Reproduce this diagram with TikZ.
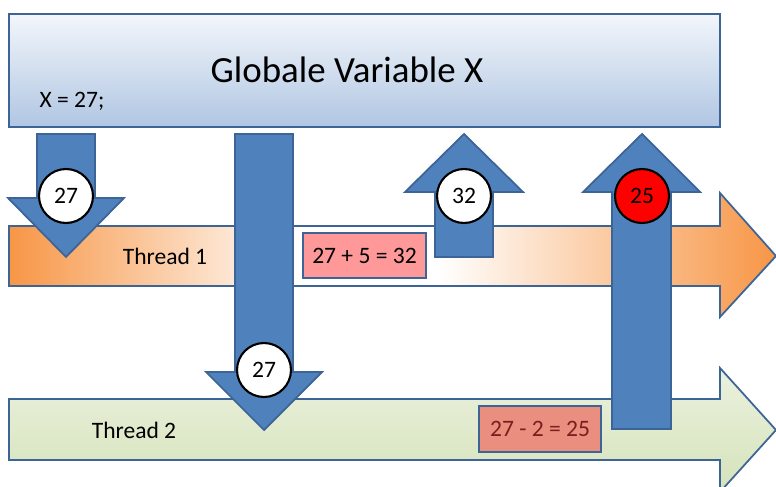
\documentclass[tikz,border=0pt]{standalone}
\usepackage{fontspec}
\setmainfont{Carlito}
\usepackage{tikz}
\usetikzlibrary{calc}

\definecolor{gvarTop}{HTML}{F3F6FB}
\definecolor{gvarBot}{HTML}{B0C6E2}
\definecolor{edgeBlue}{HTML}{3D6496}
\definecolor{flowBlue}{HTML}{4F81BD}
\definecolor{tOrange}{HTML}{F79646}
\definecolor{tGreenTop}{HTML}{EBF1DE}
\definecolor{tGreenBot}{HTML}{D5E3BA}
\definecolor{calcPink}{HTML}{FF9999}
\definecolor{calcRed}{HTML}{EA8E7F}
\definecolor{calcText}{HTML}{7A1E1E}

% orange -> white -> orange along the first thread (path box = 25bp..75bp)
\pgfdeclarehorizontalshading{threadshade}{100bp}{color(0bp)=(tOrange); color(25bp)=(tOrange); color(44bp)=(white); color(53bp)=(white); color(75bp)=(tOrange); color(100bp)=(tOrange)}

\begin{document}
\begin{tikzpicture}
[x=0.02cm, y=-0.02cm,
 every node/.style={font=\fontsize{13.4}{16}\selectfont, inner sep=0pt},
 gvar/.style={draw=edgeBlue, line width=1pt, top color=gvarTop, bottom color=gvarBot, minimum width=14.22cm, minimum height=2.26cm},
 thread/.style={draw=edgeBlue, line width=1pt},
 flow/.style={draw=edgeBlue, line width=1pt, fill=flowBlue},
 val/.style={circle, draw=black, line width=1.2pt, fill=white, minimum size=1.08cm},
 calc/.style={draw=edgeBlue, line width=1pt, minimum width=2.46cm, minimum height=0.9cm}]
\useasboundingbox (0,0) rectangle (776,486);

% the shared variable
\node[gvar] (gx) at (364.5,70.5) {};
\node[font=\fontsize{21}{25}\selectfont] (gtitle) at (347,70) {Globale Variable X};
\node (ginit) at (72,101) {X = 27;};

% the two threads
\draw[thread, shading=threadshade]
  (9,226) -- (720,226) -- (720,193) -- (776,256) -- (720,317) -- (720,286) -- (9,286) -- cycle;
\draw[thread, top color=tGreenTop, bottom color=tGreenBot]
  (9,399) -- (720,399) -- (720,368) -- (776,430) -- (720,492) -- (720,460) -- (9,460) -- cycle;
\node (t1) at (165,256) {Thread 1};
\node (t2) at (134,430) {Thread 2};

% reads and writes of X
\draw[flow] (37,134) -- (95,134) -- (95,198) -- (124,198) -- (66,257) -- (8,198) -- (37,198) -- cycle;
\draw[flow] (235,134) -- (293,134) -- (293,372) -- (322,372) -- (264,430) -- (206,372) -- (235,372) -- cycle;
\draw[flow] (435,257) -- (493,257) -- (493,192) -- (523,192) -- (464,134) -- (405,192) -- (435,192) -- cycle;
\draw[flow] (612,429) -- (671,429) -- (671,192) -- (700,192) -- (642,134) -- (583,192) -- (612,192) -- cycle;

% values carried
\node[val] (r1) at (66,196) {27};
\node[val] (r2) at (264,370) {27};
\node[val] (w1) at (464,196) {32};
\node[val, fill=red] (w2) at (642,196) {25};

% computations
\node[calc, fill=calcPink] (c1) at (364.5,255.5) {27 + 5 = 32};
\node[calc, fill=calcRed, text=calcText, minimum width=2.44cm, minimum height=0.92cm] (c2) at (540,429) {27 - 2 = 25};
\end{tikzpicture}
\end{document}
